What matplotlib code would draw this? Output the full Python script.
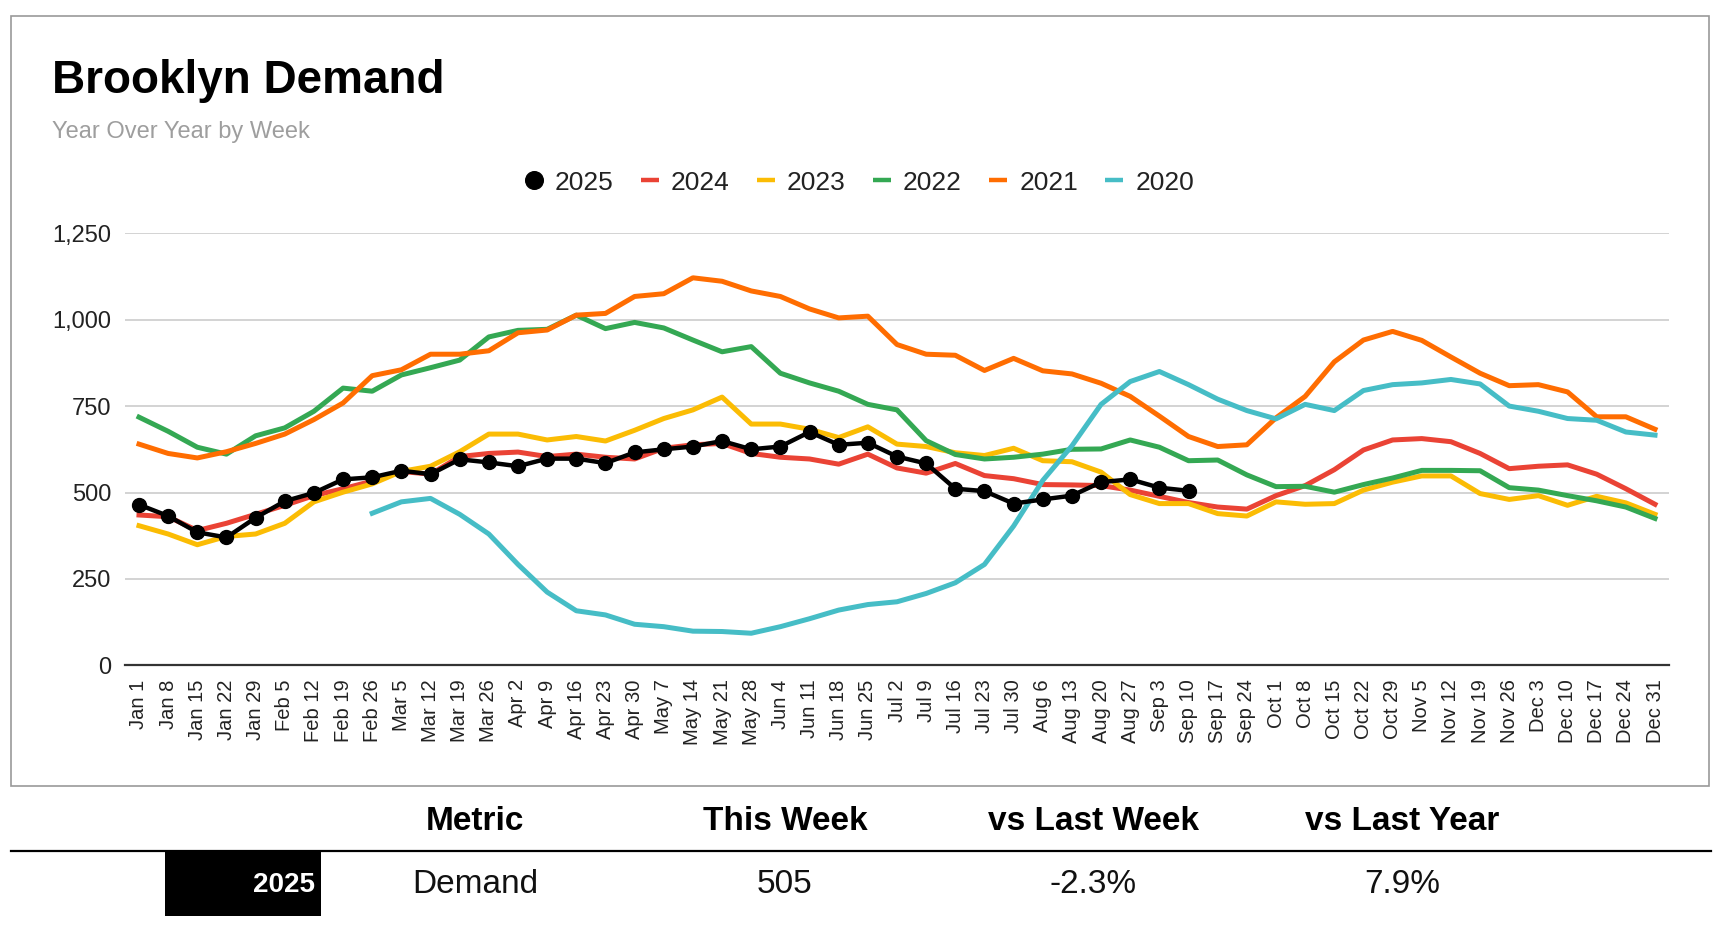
import matplotlib
matplotlib.use("Agg")
import matplotlib.pyplot as plt
import numpy as np
from matplotlib.lines import Line2D
from matplotlib.patches import Rectangle
from matplotlib.ticker import StrMethodFormatter

plt.rcParams['font.family'] = ['Liberation Sans', 'DejaVu Sans']

# Week labels
weeks = ['Jan 1', 'Jan 8', 'Jan 15', 'Jan 22', 'Jan 29', 'Feb 5', 'Feb 12', 'Feb 19',
         'Feb 26', 'Mar 5', 'Mar 12', 'Mar 19', 'Mar 26', 'Apr 2', 'Apr 9', 'Apr 16',
         'Apr 23', 'Apr 30', 'May 7', 'May 14', 'May 21', 'May 28', 'Jun 4', 'Jun 11',
         'Jun 18', 'Jun 25', 'Jul 2', 'Jul 9', 'Jul 16', 'Jul 23', 'Jul 30', 'Aug 6',
         'Aug 13', 'Aug 20', 'Aug 27', 'Sep 3', 'Sep 10', 'Sep 17', 'Sep 24', 'Oct 1',
         'Oct 8', 'Oct 15', 'Oct 22', 'Oct 29', 'Nov 5', 'Nov 12', 'Nov 19', 'Nov 26',
         'Dec 3', 'Dec 10', 'Dec 17', 'Dec 24', 'Dec 31']

# Weekly demand by year
demand_2025 = [465, 432, 385, 370, 427, 475, 499, 538, 544, 563, 553, 596, 587, 576,
               598, 598, 585, 616, 625, 633, 649, 625, 633, 675, 638, 644, 604, 584,
               511, 504, 468, 480, 491, 530, 538, 514, 505]
demand_2024 = [435, 430, 390, 411, 437, 463, 491, 511, 533, 561, 553, 604, 613, 617,
               604, 611, 602, 597, 628, 638, 642, 613, 602, 597, 582, 611, 571, 556,
               584, 549, 540, 523, 522, 520, 507, 489, 471, 458, 452, 491, 520, 566,
               623, 652, 656, 647, 613, 569, 576, 580, 553, 511, 466]
demand_2023 = [404, 380, 349, 373, 380, 411, 473, 501, 525, 561, 576, 618, 669, 669,
               652, 662, 649, 680, 714, 739, 776, 698, 698, 683, 659, 690, 640, 633,
               615, 607, 628, 592, 589, 559, 494, 468, 468, 439, 432, 473, 466, 468,
               507, 530, 548, 548, 497, 480, 491, 463, 489, 470, 437]
demand_2022 = [718, 677, 631, 611, 664, 687, 735, 802, 793, 840, 861, 883, 950, 969,
               972, 1013, 974, 992, 976, 941, 907, 922, 845, 817, 793, 755, 739, 650,
               610, 597, 602, 611, 625, 626, 652, 631, 592, 594, 551, 517, 518, 501,
               523, 542, 564, 564, 563, 514, 507, 491, 476, 458, 425]
demand_2021 = [640, 613, 600, 618, 642, 669, 711, 759, 838, 855, 900, 900, 910, 962,
               970, 1013, 1018, 1067, 1075, 1121, 1111, 1083, 1067, 1031, 1005, 1010,
               928, 900, 897, 853, 888, 852, 843, 816, 778, 721, 662, 633, 638, 716,
               778, 878, 941, 966, 940, 892, 845, 809, 812, 791, 719, 719, 683]
demand_2020 = [None, None, None, None, None, None, None, None, 440, 473, 483, 437,
               380, 292, 212, 158, 146, 119, 112, 99, 98, 93, 112, 135, 160, 176, 184,
               208, 239, 292, 403, 535, 635, 755, 821, 850, 812, 770, 737, 713, 755,
               737, 795, 812, 817, 827, 814, 750, 735, 714, 709, 675, 666]

years = ['2025', '2024', '2023', '2022', '2021', '2020']
colors = ['#000000', '#EA4335', '#FBBC04', '#34A853', '#FF6D01', '#46BDC6']

# Summary table
table_header = ['Metric', 'This Week', 'vs Last Week', 'vs Last Year']
table_row = ['Demand', '505', '-2.3%', '7.9%']

W, H = 1718, 926
fig = plt.figure(figsize=(W / 100, H / 100), dpi=100)
fig.patch.set_facecolor('white')

ax = fig.add_axes([125 / W, 1 - 665.4 / H, (1669 - 125) / W, (665.4 - 233.2) / H])

x = np.arange(len(weeks))
older = [demand_2024, demand_2023, demand_2022, demand_2021, demand_2020]
for i, series in enumerate(older):
    y = np.array([np.nan if v is None else v for v in series], dtype=float)
    ax.plot(x, y, color=colors[i + 1], lw=3.6, zorder=2 + i)

ax.plot(x[:len(demand_2025)], demand_2025, color='black', lw=3.2,
        marker='o', ms=10, zorder=10)

ax.set_xlim(-0.48, 52.48)
ax.set_ylim(0, 1250)
ax.set_yticks([0, 250, 500, 750, 1000, 1250])
ax.yaxis.set_major_formatter(StrMethodFormatter('{x:,.0f}'))
ax.set_xticks(x)
ax.set_xticklabels(weeks, rotation=90)

ax.yaxis.grid(True, color='#cccccc', lw=1.2)
ax.set_axisbelow(True)
for s in ['top', 'right', 'left']:
    ax.spines[s].set_visible(False)
ax.spines['bottom'].set_color('#333333')
ax.spines['bottom'].set_linewidth(1.6)
ax.spines['bottom'].set_zorder(1)
ax.tick_params(axis='both', length=0, colors='#222222')
ax.tick_params(axis='x', pad=10, labelsize=14.5)
ax.tick_params(axis='y', pad=10, labelsize=17)

# Legend
handles = [Line2D([], [], color='black', marker='o', ls='None', ms=12.7)]
handles += [Line2D([], [], color=c, lw=3.2, solid_capstyle='butt') for c in colors[1:]]
leg = fig.legend(handles, years, loc='center', bbox_to_anchor=(0.5002, 1 - 182.5 / H),
                 ncol=6, frameon=False, fontsize=19, handlelength=0.68,
                 handletextpad=0.47, columnspacing=1.02, borderpad=0, borderaxespad=0)
for t in leg.get_texts():
    t.set_color('#222222')

# Titles
fig.text(52 / W, 1 - 92.7 / H, 'Brooklyn Demand', fontsize=33, fontweight='bold',
         va='baseline', ha='left')
fig.text(52 / W, 1 - 137.7 / H, 'Year Over Year by Week', fontsize=17,
         color='#9e9e9e', va='baseline', ha='left')

# Chart border
fig.add_artist(Rectangle((11 / W, 1 - 786 / H), 1698 / W, 770 / H,
                         transform=fig.transFigure, fill=False,
                         ec='#999999', lw=1.2))

# Table below the chart
col_x = [475, 785, 1093.5, 1402.6]
for cx, label in zip(col_x, table_header):
    fig.text(cx / W, 1 - 830 / H, label, fontsize=24, fontweight='bold',
             ha='center', va='baseline')
fig.add_artist(Line2D([11 / W, 1711 / W], [1 - 850.7 / H] * 2,
                      transform=fig.transFigure, color='black', lw=1.6))
fig.add_artist(Rectangle((165.4 / W, 1 - 915.7 / H), 155.6 / W, 65 / H,
                         transform=fig.transFigure, fc='black', ec='none'))
fig.text(315.5 / W, 1 - 892.3 / H, years[0], fontsize=20, fontweight='bold',
         color='white', ha='right', va='baseline')
for cx, val in zip(col_x, table_row):
    fig.text(cx / W, 1 - 893.3 / H, val, fontsize=24, ha='center', va='baseline',
             color='#111111')

fig.savefig('out.png', dpi=100, facecolor='white')
